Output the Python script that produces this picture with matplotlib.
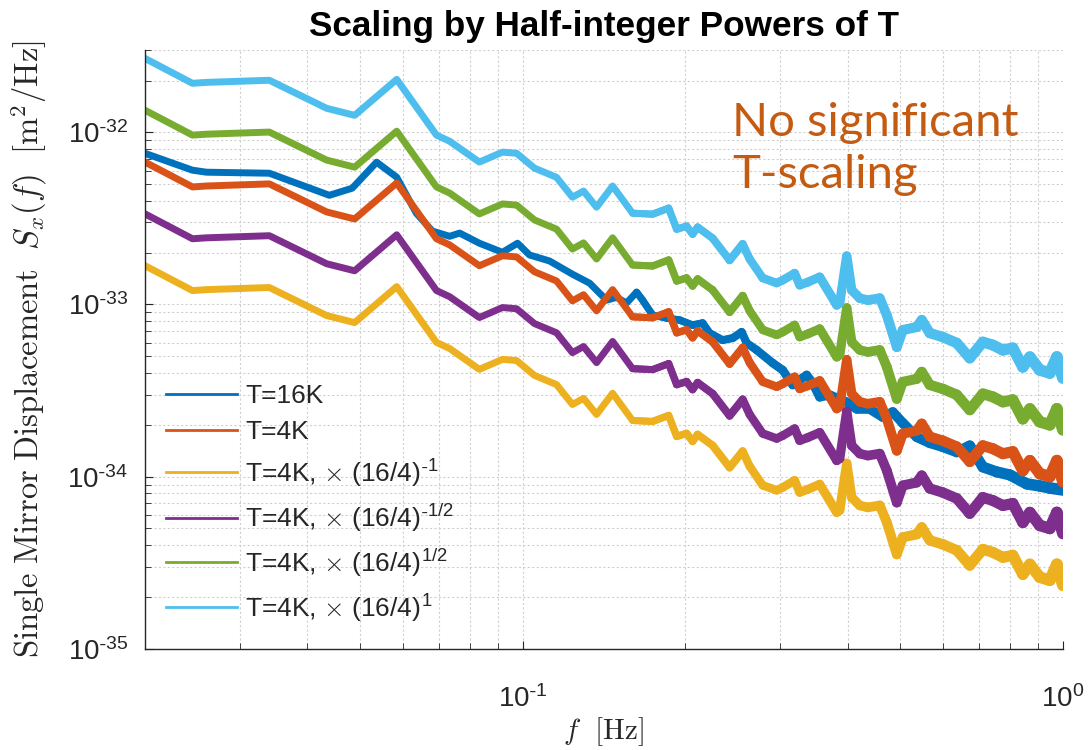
import numpy as np
import matplotlib
matplotlib.use("Agg")
import matplotlib.pyplot as plt
from matplotlib.collections import LineCollection
from matplotlib.ticker import FuncFormatter, FixedLocator, NullFormatter

plt.rcParams["font.family"] = ["Liberation Sans", "DejaVu Sans"]
plt.rcParams["mathtext.fontset"] = "cm"

# displacement PSD, units of 1e-33 m^2/Hz
freq_16k = [0.0200, 0.0245, 0.0260, 0.0340, 0.0439, 0.0484, 0.0537, 0.0585, 0.0636, 0.0681,
            0.0733, 0.0765, 0.0832, 0.0918, 0.0979, 0.1030, 0.1122, 0.1237, 0.1331, 0.1388,
            0.1431, 0.1493, 0.1558, 0.1626, 0.1668, 0.1741, 0.1848, 0.1953, 0.2064, 0.2154,
            0.2220, 0.2346, 0.2449, 0.2544, 0.2599, 0.2712, 0.2904, 0.3030, 0.3162, 0.3356,
            0.3443, 0.3548, 0.3703, 0.3981, 0.4154, 0.4391, 0.4642, 0.4845, 0.5055, 0.5365,
            0.5671, 0.5995, 0.6363, 0.6725, 0.7110, 0.7547, 0.7978, 0.8577, 0.9063, 0.9460,
            1.0]
psd_16k = [7.56, 6.03, 5.87, 5.79, 4.31, 4.74, 6.71, 5.49, 3.39, 2.67,
           2.49, 2.60, 2.27, 2.01, 2.27, 1.94, 1.79, 1.50, 1.33, 1.165,
           1.06, 1.10, 1.02, 1.18, 1.06, 0.868, 0.834, 0.812, 0.759, 0.780,
           0.682, 0.621, 0.638, 0.692, 0.597, 0.544, 0.457, 0.416, 0.341, 0.389,
           0.350, 0.290, 0.298, 0.271, 0.247, 0.247, 0.222, 0.237, 0.205, 0.170,
           0.157, 0.149, 0.139, 0.151, 0.1138, 0.1065, 0.1023, 0.0907, 0.0883, 0.0859,
           0.0837]

freq_4k = [0.0200, 0.0245, 0.0260, 0.0340, 0.0434, 0.0489, 0.0585, 0.0693, 0.0733, 0.0832,
           0.0918, 0.0975, 0.1052, 0.1156, 0.1237, 0.1297, 0.1371, 0.1468, 0.1598, 0.1741,
           0.1864, 0.1929, 0.2012, 0.2064, 0.2109, 0.2248, 0.2417, 0.2555, 0.2633, 0.2783,
           0.2954, 0.3030, 0.3189, 0.3258, 0.3370, 0.3548, 0.3815, 0.3864, 0.3981, 0.4067,
           0.4208, 0.4354, 0.4583, 0.4722, 0.4928, 0.5055, 0.5365, 0.5481, 0.5671, 0.5995,
           0.6363, 0.6725, 0.7110, 0.7420, 0.7743, 0.8079, 0.8432, 0.8689, 0.9063, 0.9460,
           0.9748, 1.0]
psd_4k = [6.73, 4.82, 4.88, 5.02, 3.45, 3.14, 5.08, 2.41, 2.22, 1.68,
          1.92, 1.89, 1.55, 1.37, 1.05, 1.14, 0.919, 1.22, 0.848, 0.837,
          0.907, 0.685, 0.713, 0.641, 0.703, 0.607, 0.452, 0.561, 0.459, 0.356,
          0.333, 0.346, 0.380, 0.324, 0.337, 0.361, 0.248, 0.255, 0.478, 0.303,
          0.272, 0.265, 0.272, 0.217, 0.1415, 0.1776, 0.185, 0.203, 0.1706, 0.1617,
          0.1493, 0.1221, 0.1513, 0.1453, 0.1359, 0.1396, 0.1083, 0.1238, 0.1041, 0.1000,
          0.1238, 0.0935]

# exponents p in (16/4)^p applied to the 4K spectrum
scale_powers = [-1, -0.5, 0.5, 1]
scale_tex = [r"\text{-}1", r"\text{-}1/2", "1/2", "1"]

colors = ["#0072BD", "#D95319", "#EDB120", "#7E2F8E", "#77AC30", "#4DBEEE"]

f16 = np.array(freq_16k)
s16 = np.array(psd_16k) * 1e-33
f4 = np.array(freq_4k)
s4 = np.array(psd_4k) * 1e-33

fig = plt.figure(figsize=(10.89, 7.5), dpi=100)
ax = fig.add_axes([0.133, 0.135, 0.843, 0.798])

lw = 5


def trace(f, s, color, label):
    ax.plot(f, s, color=color, lw=lw, label=label, solid_joinstyle="round")
    # the spectra get noisier toward 1 Hz, so the trace widens there
    pts = np.column_stack([f, s])
    segs = np.stack([pts[:-1], pts[1:]], axis=1)
    fm = np.sqrt(f[:-1] * f[1:])
    widths = lw + 3.5 * np.clip((np.log10(fm) + 0.8) / 0.8, 0, 1)
    keep = fm > 0.16
    ax.add_collection(LineCollection(segs[keep], colors=color, linewidths=widths[keep],
                                     capstyle="round", joinstyle="round"))


trace(f16, s16, colors[0], "T=16K")
trace(f4, s4, colors[1], "T=4K")
for p, tex, c in zip(scale_powers, scale_tex, colors[2:]):
    trace(f4, s4 * (16 / 4) ** p, c, r"T=4K, $\times$ (16/4)$^{\mathregular{%s}}$" % tex)

ax.set_xscale("log")
ax.set_yscale("log")
ax.set_xlim(0.02, 1)
ax.set_ylim(1e-35, 3e-32)

# ticks only inside the visible range
ydec = [1e-35, 1e-34, 1e-33, 1e-32]
ax.yaxis.set_major_locator(FixedLocator(ydec))
ax.yaxis.set_minor_locator(FixedLocator(
    [m * d for d in ydec for m in range(2, 10) if m * d <= 3e-32]))
ax.xaxis.set_major_locator(FixedLocator([0.1, 1.0]))
ax.xaxis.set_minor_locator(FixedLocator(
    [m * d for d in (0.01, 0.1) for m in range(2, 10)]))


def decade(v, _):
    e = int(round(np.log10(v)))
    s = r"\text{-}%d" % -e if e < 0 else "%d" % e
    return r"$\mathregular{10^{%s}}$" % s


ax.xaxis.set_major_formatter(FuncFormatter(decade))
ax.yaxis.set_major_formatter(FuncFormatter(decade))
ax.xaxis.set_minor_formatter(NullFormatter())
ax.yaxis.set_minor_formatter(NullFormatter())

ax.grid(True, which="both", linestyle=(0, (2, 2)), color="#d0d0d0", lw=0.8)
ax.set_axisbelow(True)
for side in ("top", "right"):
    ax.spines[side].set_visible(False)
for side in ("left", "bottom"):
    ax.spines[side].set_color("#262626")
    ax.spines[side].set_linewidth(1.0)
ax.tick_params(which="both", direction="in", colors="#262626", labelsize=20,
               top=False, right=False)
ax.tick_params(which="major", length=6)
ax.tick_params(which="minor", length=4)
ax.tick_params(axis="x", pad=26)
ax.tick_params(axis="y", pad=12)

ax.set_title("Scaling by Half-integer Powers of T", fontsize=25.3, fontweight="bold", pad=10)
ax.set_xlabel(r"$f\ \ [\mathrm{Hz}]$", fontsize=21, color="#262626", labelpad=2)
ax.set_ylabel(r"$\mathrm{Single\ Mirror\ Displacement}\ \ S_x(f)\ \ [\mathrm{m}^2/\mathrm{Hz}]$",
              fontsize=23.5, color="#262626")
ax.yaxis.set_label_coords(-0.104, 0.5)

leg = ax.legend(loc="upper left", bbox_to_anchor=(0.0, 0.478), frameon=False,
                fontsize=19, handlelength=2.7, handletextpad=0.3, labelspacing=0.47,
                borderaxespad=0.4)
for line in leg.get_lines():
    line.set_linewidth(2)
for t in leg.get_texts():
    t.set_color("#262626")

ax.text(0.64, 0.835, "No significant\nT-scaling", transform=ax.transAxes,
        fontsize=34, color="#C55A11", family=["Lato", "DejaVu Sans"],
        ha="left", va="center", linespacing=1.3)

fig.savefig("out.png", dpi=100)
